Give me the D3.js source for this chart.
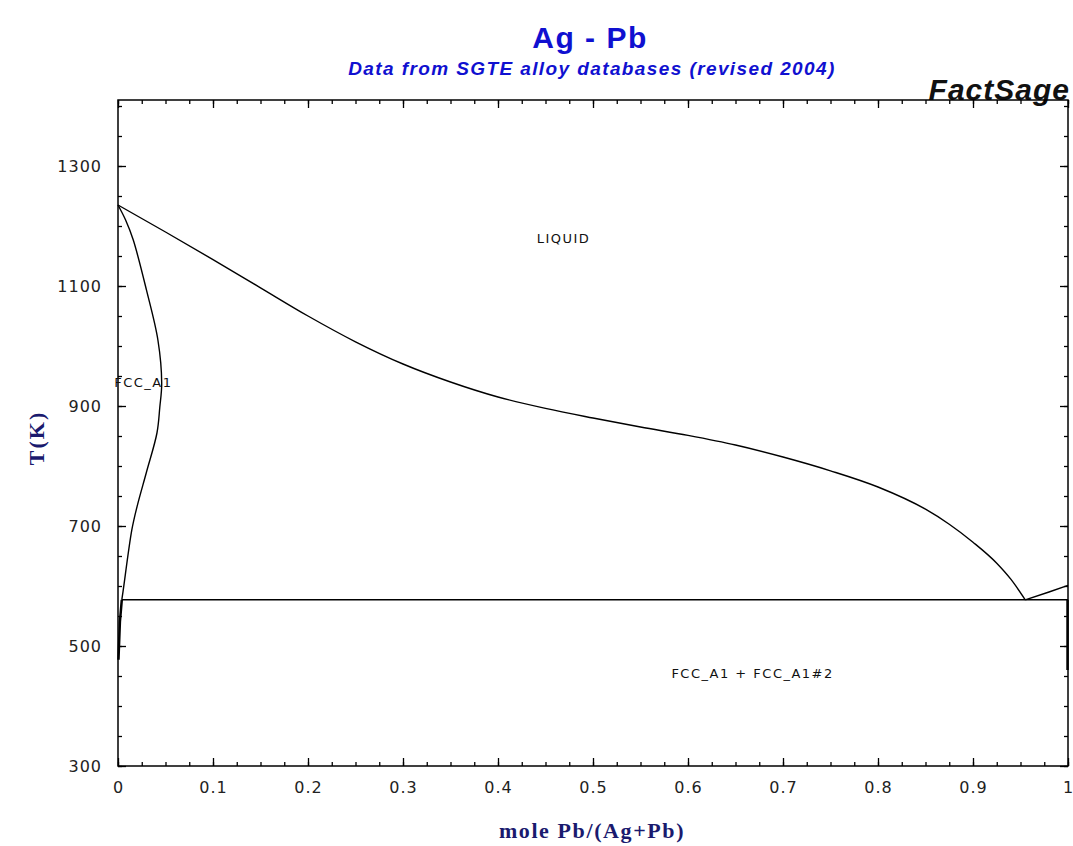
<!DOCTYPE html>
<html>
<head>
<meta charset="utf-8">
<script src="https://cdn.jsdelivr.net/npm/d3@7"></script>
<style>
  body { margin: 0; background: #fff; }
  text { font-family: "Liberation Sans", Arial, sans-serif; }
</style>
</head>
<body>
<svg id="chart" width="1073" height="846"></svg>
<script>
// phase boundaries (x = mole Pb/(Ag+Pb), T in K)
var liquidusAg = [[0, 1235], [0.05, 1190], [0.1, 1144], [0.15, 1097], [0.2, 1050], [0.25, 1007],
  [0.3, 970], [0.35, 940], [0.4, 915], [0.45, 896], [0.5, 880], [0.55, 865], [0.6, 851],
  [0.65, 835], [0.7, 815], [0.75, 792], [0.8, 765], [0.85, 728], [0.875, 703], [0.9, 673],
  [0.925, 638], [0.94, 611], [0.955, 577]];
var liquidusPb = [[0.955, 577], [0.98, 590], [1.0, 601]];
var solidusAg = [[0, 1235], [0.008, 1210], [0.016, 1177], [0.03, 1093], [0.042, 1010], [0.046, 938],
  [0.044, 898], [0.041, 855], [0.03, 790], [0.02, 732], [0.0145, 693], [0.0055, 593], [0.004, 577]];
var solvusAg = [[0.004, 577], [0.002, 540], [0.0005, 477]];
var solvusPb = [[0.9995, 577], [0.9995, 460]];
var eutectic = [[0.004, 577], [1.0, 577]];

var xTicks = [0, 0.1, 0.2, 0.3, 0.4, 0.5, 0.6, 0.7, 0.8, 0.9, 1];
var yTicks = [300, 500, 700, 900, 1100, 1300];

var phaseLabels = [
  {text: 'LIQUID', x: 0.469, t: 1171, anchor: 'middle'},
  {text: 'FCC_A1', x: -0.004, t: 931, anchor: 'start'},
  {text: 'FCC_A1 + FCC_A1#2', x: 0.668, t: 446, anchor: 'middle'}
];

var svg = d3.select('#chart');
var mLeft = 118, mRight = 1068, mTop = 100, mBottom = 766;

var x = d3.scaleLinear().domain([0, 1]).range([mLeft, mRight]);
var y = d3.scaleLinear().domain([300, 1410]).range([mBottom, mTop]);

// titles
svg.append('text').attr('x', 590).attr('y', 48).attr('text-anchor', 'middle')
  .attr('fill', '#1010d0').style('font-size', '30px').style('font-weight', 'bold').style('letter-spacing', '1.5px')
  .text('Ag - Pb');
svg.append('text').attr('x', 592).attr('y', 75).attr('text-anchor', 'middle')
  .attr('fill', '#1010d0').style('font-size', '19px').style('font-weight', 'bold').style('font-style', 'italic')
  .style('letter-spacing', '1.4px')
  .text('Data from SGTE alloy databases (revised 2004)');
svg.append('text').attr('x', 1070).attr('y', 100).attr('text-anchor', 'end')
  .attr('fill', '#111').style('font-size', '30px').style('font-weight', 'bold').style('font-style', 'italic')
  .style('letter-spacing', '1px')
  .text('FactSage');

// frame
svg.append('rect').attr('x', mLeft).attr('y', mTop).attr('width', mRight - mLeft).attr('height', mBottom - mTop)
  .attr('fill', 'none').attr('stroke', '#000').attr('stroke-width', 1.5);

// ticks on all four sides, pointing inward
var xMinor = d3.range(0, 1.0001, 0.025);
var yMinor = d3.range(300, 1410, 50);

svg.append('g').attr('transform', 'translate(0,' + mBottom + ')').call(d3.axisBottom(x).tickValues(xMinor).tickSize(-4).tickFormat(''));
svg.append('g').attr('transform', 'translate(0,' + mBottom + ')')
  .call(d3.axisBottom(x).tickValues(xTicks).tickSize(-8).tickPadding(16).tickFormat(d3.format('')))
  .attr('class', 'xmajor');
svg.append('g').attr('transform', 'translate(0,' + mTop + ')').call(d3.axisTop(x).tickValues(xMinor).tickSize(-4).tickFormat(''));
svg.append('g').attr('transform', 'translate(0,' + mTop + ')').call(d3.axisTop(x).tickValues(xTicks).tickSize(-8).tickFormat(''));

svg.append('g').attr('transform', 'translate(' + mLeft + ',0)').call(d3.axisLeft(y).tickValues(yMinor).tickSize(-4).tickFormat(''));
svg.append('g').attr('transform', 'translate(' + mLeft + ',0)')
  .call(d3.axisLeft(y).tickValues(yTicks).tickSize(-8).tickPadding(16).tickFormat(d3.format('')))
  .attr('class', 'ymajor');
svg.append('g').attr('transform', 'translate(' + mRight + ',0)').call(d3.axisRight(y).tickValues(yMinor).tickSize(-4).tickFormat(''));
svg.append('g').attr('transform', 'translate(' + mRight + ',0)').call(d3.axisRight(y).tickValues(yTicks).tickSize(-8).tickFormat(''));

svg.selectAll('.domain').remove();
svg.selectAll('.tick line').attr('stroke', '#000').attr('stroke-width', 1.3);
svg.selectAll('.xmajor text, .ymajor text').attr('fill', '#222')
  .style('font-size', '16px').style('letter-spacing', '1px').style('font-family', '"DejaVu Sans", sans-serif');

// axis titles
svg.append('text').attr('x', 592).attr('y', 838).attr('text-anchor', 'middle')
  .attr('fill', '#1a1a6e').style('font-family', '"Liberation Serif", serif')
  .style('font-size', '22px').style('font-weight', 'bold').style('letter-spacing', '1.6px')
  .text('mole Pb/(Ag+Pb)');
svg.append('text').attr('transform', 'translate(44,438) rotate(-90)').attr('text-anchor', 'middle')
  .attr('fill', '#1a1a6e').style('font-family', '"Liberation Serif", serif')
  .style('font-size', '22px').style('font-weight', 'bold').style('letter-spacing', '2px')
  .text('T(K)');

// phase boundaries
function pathOf(curveType) {
  return d3.line().curve(curveType).x(function(d) { return x(d[0]); }).y(function(d) { return y(d[1]); });
}

svg.append('path').datum(liquidusAg).attr('d', pathOf(d3.curveMonotoneX)).attr('fill', 'none').attr('stroke', '#000').attr('stroke-width', 1.4);
svg.append('path').datum(liquidusPb).attr('d', pathOf(d3.curveLinear)).attr('fill', 'none').attr('stroke', '#000').attr('stroke-width', 1.4);
svg.append('path').datum(solidusAg).attr('d', pathOf(d3.curveCatmullRom)).attr('fill', 'none').attr('stroke', '#000').attr('stroke-width', 1.4);
svg.append('path').datum(eutectic).attr('d', pathOf(d3.curveLinear)).attr('fill', 'none').attr('stroke', '#000').attr('stroke-width', 1.4);
[solvusAg, solvusPb].forEach(function(s) {
  svg.append('path').datum(s).attr('d', pathOf(d3.curveLinear))
    .attr('fill', 'none').attr('stroke', '#000').attr('stroke-width', 2.5);
});

// phase labels
svg.selectAll('.phase').data(phaseLabels).enter().append('text')
  .attr('class', 'phase')
  .attr('x', function(d) { return x(d.x); })
  .attr('y', function(d) { return y(d.t); })
  .attr('text-anchor', function(d) { return d.anchor; })
  .attr('fill', '#111').style('font-size', '13px').style('letter-spacing', '1.5px')
  .style('font-family', '"DejaVu Sans", sans-serif')
  .text(function(d) { return d.text; });
</script>
</body>
</html>
